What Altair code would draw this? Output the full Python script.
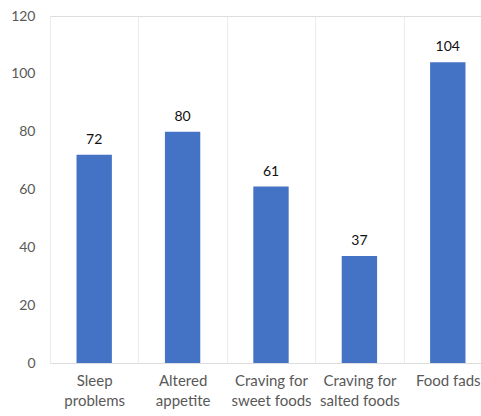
import altair as alt
import pandas as pd

categories = ["Sleep|problems", "Altered|appetite", "Craving for|sweet foods",
              "Craving for|salted foods", "Food fads"]
values = [72, 80, 61, 37, 104]
y_ticks = [0, 20, 40, 60, 80, 100, 120]

df = pd.DataFrame({"cat": categories, "val": values})

FONT = "Lato"

x_enc = alt.X(
    "cat:N", sort=categories, title=None,
    scale=alt.Scale(range=[0, 442], paddingInner=0, paddingOuter=0),
    axis=alt.Axis(
        labelAngle=0, labelExpr="split(datum.label, '|')", labelLineHeight=20,
        labelFontSize=15, labelColor="#595959", labelFont=FONT, labelPadding=10,
        domain=False, ticks=False, grid=True, tickBand="extent",
        gridColor="#ebebeb", gridWidth=1,
    ),
)
y_enc = alt.Y(
    "val:Q", title=None,
    scale=alt.Scale(domain=[0, 120], nice=False),
    axis=alt.Axis(
        values=y_ticks, grid=False, domain=False, ticks=False, tickSize=0,
        labelPadding=15, labelFontSize=14, labelColor="#595959", labelFont=FONT,
    ),
)

bars = alt.Chart(df).mark_bar(color="#4472C4", width=alt.RelativeBandSize(0.4)).encode(
    x=x_enc, y=y_enc
)
text = alt.Chart(df).mark_text(
    baseline="bottom", dy=-8, fontSize=14, font=FONT, color="#111111"
).encode(x=alt.X("cat:N", sort=categories), y="val:Q", text="val:Q")

chart = (bars + text).properties(
    width=431, height=347,
    autosize=alt.AutoSizeParams(type="none"),
    padding={"left": 50, "top": 16, "right": 0, "bottom": 53},
).configure_view(stroke=None).configure(background="white")

chart.save("out.html", embed_options={"renderer": "svg", "actions": False})
